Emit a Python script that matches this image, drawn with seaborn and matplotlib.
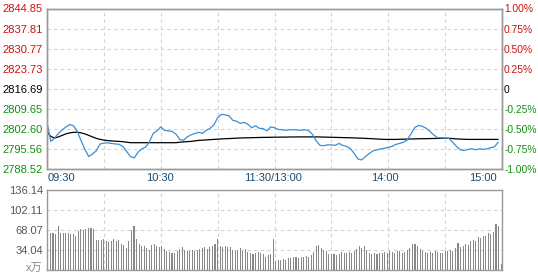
import numpy as np
import pandas as pd
import matplotlib
matplotlib.use("Agg")
import matplotlib.pyplot as plt
import seaborn as sns

sns.set_style("white")
plt.rcParams['font.family'] = ['Liberation Sans', 'Noto Sans CJK SC', 'DejaVu Sans']

# ---------------- data ----------------
prev_close = 2816.69
price_ticks = [2788.52, 2795.56, 2802.60, 2809.65, 2816.69, 2823.73, 2830.77, 2837.81, 2844.85]
price_tick_labels = ["2788.52", "2795.56", "2802.60", "2809.65", "2816.69",
                     "2823.73", "2830.77", "2837.81", "2844.85"]
pct_labels = ["-1.00%", "-0.75%", "-0.50%", "-0.25%", "0", "0.25%", "0.50%", "0.75%", "1.00%"]
vol_ticks = [0, 34.04, 68.07, 102.11, 136.14]
vol_tick_labels = ["", "34.04", "68.07", "102.11", "136.14"]
time_labels = ["09:30", "10:30", "11:30/13:00", "14:00", "15:00"]
time_label_pos = [0.5, 59.5, 119.0, 178.5, 237.3]
grid_minutes = [0, 30, 60, 90, 120, 150, 180, 210, 240]

price_minutes = list(range(0, 240, 2))
price = [2804.9, 2798.2, 2799.4, 2801.0, 2802.2, 2803.3, 2804.1, 2803.7, 2801.7, 2798.4,
         2795.4, 2792.9, 2793.8, 2794.9, 2797.3, 2797.6, 2797.7, 2797.5, 2797.3, 2797.2,
         2796.45, 2794.7, 2792.9, 2792.4, 2794.4, 2795.6, 2796.2, 2798.0, 2801.0, 2801.9,
         2803.3, 2802.1, 2801.9, 2801.7, 2800.8, 2798.9, 2798.6, 2799.8, 2800.5, 2801.0,
         2801.4, 2801.0, 2802.1, 2802.8, 2804.0, 2806.5, 2807.7, 2807.5, 2807.2, 2805.6,
         2805.3, 2804.5, 2804.9, 2804.2, 2803.0, 2803.7, 2802.8, 2802.7, 2801.9, 2803.3,
         2803.0, 2802.4, 2802.3, 2802.1, 2802.3, 2802.3, 2802.2, 2802.1, 2802.3, 2802.0,
         2800.7, 2798.4, 2796.8, 2796.7, 2797.0, 2797.0, 2796.8, 2797.5, 2796.8, 2796.45,
         2795.75, 2794.0, 2792.05, 2791.7, 2792.9, 2794.0, 2794.9, 2795.2, 2795.6, 2795.8,
         2796.1, 2796.45, 2797.15, 2797.5, 2797.9, 2798.7, 2800.85, 2803.1, 2803.8, 2803.5,
         2802.8, 2801.7, 2800.5, 2799.5, 2799.5, 2799.4, 2799.3, 2797.9, 2796.45, 2795.3,
         2795.0, 2795.4, 2795.6, 2795.3, 2795.6, 2795.4, 2795.6, 2796.0, 2796.3, 2797.9]
avg_price = [2801.48, 2799.97, 2799.37, 2799.79, 2800.32, 2800.85, 2801.20, 2801.38, 2801.45, 2801.20,
             2800.85, 2800.32, 2799.79, 2799.27, 2798.91, 2798.67, 2798.49, 2798.38, 2798.28, 2798.21,
             2798.10, 2797.93, 2797.75, 2797.75, 2797.75, 2797.75, 2797.75, 2797.75, 2797.75, 2797.75,
             2797.75, 2797.75, 2797.75, 2797.75, 2797.75, 2797.93, 2798.03, 2798.14, 2798.21, 2798.38,
             2798.56, 2798.63, 2798.74, 2798.81, 2798.91, 2798.98, 2799.09, 2799.16, 2799.20, 2799.27,
             2799.34, 2799.41, 2799.44, 2799.48, 2799.51, 2799.55, 2799.58, 2799.62, 2799.62, 2799.65,
             2799.69, 2799.69, 2799.72, 2799.72, 2799.76, 2799.76, 2799.79, 2799.79, 2799.79, 2799.79,
             2799.79, 2799.79, 2799.76, 2799.72, 2799.69, 2799.65, 2799.62, 2799.58, 2799.55, 2799.51,
             2799.48, 2799.44, 2799.37, 2799.34, 2799.27, 2799.20, 2799.13, 2799.06, 2798.98, 2798.91,
             2798.91, 2798.91, 2798.91, 2798.95, 2798.98, 2799.02, 2799.06, 2799.09, 2799.13, 2799.16,
             2799.16, 2799.20, 2799.23, 2799.27, 2799.30, 2799.34, 2799.30, 2799.20, 2799.09, 2799.02,
             2798.95, 2798.91, 2798.91, 2798.91, 2798.91, 2798.91, 2798.91, 2798.91, 2798.91, 2798.91]

volume = [67, 63, 62, 61, 75, 62, 63, 62, 63, 61,
          60, 58, 66, 70, 68, 70, 71, 71, 70, 51,
          51, 50, 52, 49, 47, 48, 52, 48, 50, 44,
          42, 36, 48, 68, 75, 52, 44, 40, 41, 37,
          34, 42, 43, 41, 38, 40, 35, 31, 30, 29,
          29, 31, 35, 38, 33, 32, 31, 33, 32, 34,
          35, 36, 39, 35, 38, 41, 44, 52, 40, 38,
          40, 38, 39, 33, 31, 34, 36, 32, 35, 30,
          28, 27, 29, 30, 28, 26, 21, 24, 27, 52,
          14, 17, 16, 18, 17, 19, 20, 22, 21, 20,
          22, 21, 23, 22, 25, 30, 40, 42, 37, 33,
          31, 27, 26, 27, 25, 27, 30, 29, 28, 30,
          29, 31, 35, 41, 37, 41, 34, 28, 27, 28,
          27, 29, 28, 30, 29, 31, 30, 28, 32, 31,
          29, 30, 33, 37, 44, 43, 40, 35, 31, 30,
          29, 30, 28, 31, 30, 29, 28, 31, 32, 33,
          31, 36, 45, 38, 40, 44, 42, 48, 51, 49,
          55, 54, 58, 57, 63, 61, 65, 78, 75, 10]
vol_minutes = np.linspace(0.5, 239.5, len(volume))

# ---------------- styling ----------------
RED = "#cc1010"
GREEN = "#109010"
BLUE = "#3a8fd8"
TIME_C = "#1a4c72"
SPINE = "#999999"
GRID = "#d2d2d2"
FS = 8

W, H = 538, 273
fig = plt.figure(figsize=(W / 100, H / 100), dpi=100)
fig.patch.set_facecolor("white")

def px_axes(x0, y0, x1, y1):
    return fig.add_axes([x0 / W, 1 - y1 / H, (x1 - x0) / W, (y1 - y0) / H])

ax = px_axes(47, 8.5, 502, 169)
axv = px_axes(47, 190, 502, 269.5)

# price panel
df_p = pd.DataFrame({"minute": price_minutes, "price": price, "avg": avg_price})
sns.lineplot(data=df_p, x="minute", y="avg", color="black", linewidth=0.9, ax=ax)
sns.lineplot(data=df_p, x="minute", y="price", color=BLUE, linewidth=0.9, ax=ax)
ax.set_xlim(0, 240)
ax.set_ylim(price_ticks[0], price_ticks[-1])
ax.set_xticks(grid_minutes)
ax.set_yticks(price_ticks)
ax.set_yticklabels(price_tick_labels)
ax.set_xlabel("")
ax.set_ylabel("")
ax.tick_params(axis="x", length=0, labelbottom=False)
ax.tick_params(axis="y", length=0, pad=3, labelsize=FS)
for lab, v in zip(ax.get_yticklabels(), price_ticks):
    lab.set_color(RED if v > prev_close + 0.01 else (GREEN if v < prev_close - 0.01 else "black"))
ax.grid(True, linestyle=(0, (3, 3)), color=GRID, linewidth=0.8)
for s in ax.spines.values():
    s.set_color(SPINE)
    s.set_linewidth(1.0)

axr = ax.twinx()
axr.set_ylim(price_ticks[0], price_ticks[-1])
axr.set_yticks(price_ticks)
axr.set_yticklabels(pct_labels)
axr.tick_params(axis="y", length=0, pad=1.5, labelsize=7.4)
for lab, v in zip(axr.get_yticklabels(), price_ticks):
    lab.set_color(RED if v > prev_close + 0.01 else (GREEN if v < prev_close - 0.01 else "black"))
axr.grid(False)
for s in axr.spines.values():
    s.set_color(SPINE)
    s.set_linewidth(1.0)

# time labels
for t, pos in zip(time_labels, time_label_pos):
    ha = "left" if pos < 1 else ("right" if pos > 230 else "center")
    ax.text(pos, -0.055, t, transform=ax.get_xaxis_transform(), ha=ha, va="center",
            fontsize=FS, color=TIME_C)

# volume panel
sns.barplot(x=vol_minutes, y=volume, native_scale=True, color="#888888",
            width=0.42, errorbar=None, linewidth=0, saturation=1, ax=axv)
axv.set_xlim(0, 240)
axv.set_ylim(0, vol_ticks[-1])
axv.set_xticks(grid_minutes)
axv.set_yticks(vol_ticks)
axv.set_yticklabels(vol_tick_labels)
axv.set_xlabel("")
axv.set_ylabel("")
axv.tick_params(axis="x", length=0, labelbottom=False)
axv.tick_params(axis="y", length=0, pad=3, labelsize=FS, labelcolor="#555555")
axv.grid(True, linestyle=(0, (3, 3)), color=GRID, linewidth=0.8)
axv.set_axisbelow(True)
for s in axv.spines.values():
    s.set_color(SPINE)
    s.set_linewidth(1.0)
fig.text(43 / W, 1 - 268 / H, "x万", ha="right", va="center", fontsize=FS, color="#888888")

fig.savefig("out.png", dpi=100, facecolor="white")
